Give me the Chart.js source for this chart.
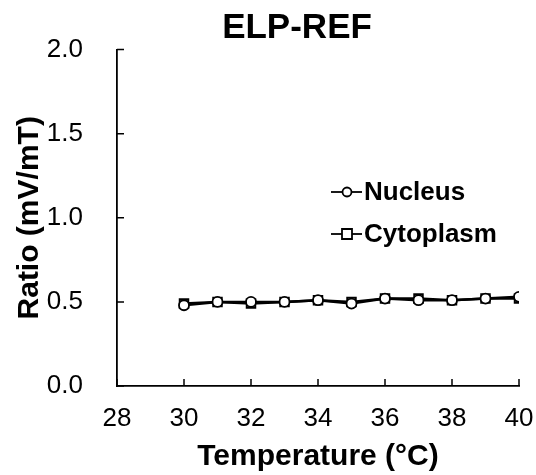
<!DOCTYPE html>
<html>
<head>
<meta charset="utf-8">
<script src="https://cdn.jsdelivr.net/npm/chart.js@4"></script>
<style>
  html, body { margin: 0; padding: 0; background: #fff; }
  #wrap { width: 536px; height: 475px; }
</style>
</head>
<body>
<div id="wrap"><canvas id="chart"></canvas></div>
<script>
// temperatures (°C)
var temperatures = [30, 31, 32, 33, 34, 35, 36, 37, 38, 39, 40];
// ratio values (mV/mT)
var nucleus = [0.48, 0.50, 0.50, 0.50, 0.51, 0.49, 0.52, 0.51, 0.51, 0.52, 0.53];
var cytoplasm = [0.49, 0.50, 0.49, 0.50, 0.51, 0.50, 0.52, 0.52, 0.51, 0.52, 0.52];
var xTicks = [28, 30, 32, 34, 36, 38, 40];
var yTicks = [0, 0.5, 1.0, 1.5, 2.0];
var chartTitle = 'ELP-REF';

function toPoints(xs, ys) {
  var pts = [];
  for (var i = 0; i < xs.length; i++) {
    pts.push({ x: xs[i], y: ys[i] });
  }
  return pts;
}

var FONT = '"Liberation Sans", Arial, sans-serif';

// small inward tick marks on both axes
var innerTicks = {
  id: 'innerTicks',
  afterDraw: function (chart) {
    var ctx = chart.ctx;
    var xs = chart.scales.x, ys = chart.scales.y;
    var area = chart.chartArea;
    ctx.save();
    ctx.strokeStyle = '#000';
    ctx.lineWidth = 1.5;
    ctx.beginPath();
    xTicks.forEach(function (v) {
      var px = xs.getPixelForValue(v);
      ctx.moveTo(px, area.bottom);
      ctx.lineTo(px, area.bottom - 7);
    });
    yTicks.forEach(function (v) {
      var py = ys.getPixelForValue(v);
      ctx.moveTo(area.left, py);
      ctx.lineTo(area.left + 7, py);
    });
    ctx.stroke();
    ctx.restore();
  }
};

// title, a bit right of centre like the original
var topTitle = {
  id: 'topTitle',
  afterDraw: function (chart) {
    var ctx = chart.ctx;
    ctx.save();
    ctx.fillStyle = '#000';
    ctx.font = 'bold 35px ' + FONT;
    ctx.textAlign = 'center';
    ctx.textBaseline = 'alphabetic';
    ctx.fillText(chartTitle, 297, 38);
    ctx.restore();
  }
};

// legend drawn inside the plot area
var innerLegend = {
  id: 'innerLegend',
  afterDraw: function (chart) {
    var ctx = chart.ctx;
    var x0 = 331, y0 = 192, gap = 42;
    ctx.save();
    chart.data.datasets.forEach(function (ds, i) {
      var y = y0 + i * gap;
      ctx.strokeStyle = '#000';
      ctx.lineWidth = 1.8;
      ctx.beginPath();
      ctx.moveTo(x0, y);
      ctx.lineTo(x0 + 31, y);
      ctx.stroke();
      ctx.fillStyle = '#fff';
      ctx.beginPath();
      if (ds.pointStyle === 'rect') {
        ctx.rect(x0 + 11, y - 5, 10, 10);
      } else {
        ctx.arc(x0 + 16, y, 4.5, 0, Math.PI * 2);
      }
      ctx.fill();
      ctx.stroke();
      ctx.fillStyle = '#000';
      ctx.font = 'bold 26px ' + FONT;
      ctx.textBaseline = 'middle';
      ctx.fillText(ds.label, x0 + 33, y + 1);
    });
    ctx.restore();
  }
};

var ctx = document.getElementById('chart').getContext('2d');
var myChart = new Chart(ctx, {
  type: 'line',
  data: {
    datasets: [{
      label: 'Nucleus',
      data: toPoints(temperatures, nucleus),
      borderColor: '#000',
      borderWidth: 2.5,
      pointStyle: 'circle',
      pointRadius: 5,
      pointBorderWidth: 1.8,
      pointBackgroundColor: '#fff',
      pointBorderColor: '#000'
    }, {
      label: 'Cytoplasm',
      data: toPoints(temperatures, cytoplasm),
      borderColor: '#000',
      borderWidth: 2.5,
      pointStyle: 'rect',
      pointRadius: 6,
      pointBorderWidth: 2,
      pointBackgroundColor: 'rgba(255,255,255,0)',
      pointBorderColor: '#000'
    }]
  },
  options: {
    responsive: true,
    maintainAspectRatio: false,
    animation: false,
    layout: {
      padding: { top: 47, right: 0, bottom: 0, left: 0 }
    },
    plugins: {
      legend: { display: false },
      tooltip: { enabled: false },
      title: { display: false }
    },
    scales: {
      x: {
        type: 'linear',
        min: 28,
        max: 40,
        afterBuildTicks: function (scale) {
          scale.ticks = xTicks.map(function (v) { return { value: v }; });
        },
        afterFit: function (scale) {
          scale.height = 89;
          scale.paddingRight = 17;
          scale.paddingLeft = 0;
        },
        grid: { display: false, drawTicks: false },
        border: { display: true, color: '#000', width: 1.8 },
        ticks: {
          color: '#000',
          padding: 17,
          maxRotation: 0,
          font: { family: FONT, size: 26 }
        },
        title: {
          display: true,
          text: 'Temperature (°C)',
          color: '#000',
          font: { family: FONT, size: 30, weight: 'bold' },
          padding: { top: 0, bottom: 0 }
        }
      },
      y: {
        min: 0,
        max: 2,
        afterBuildTicks: function (scale) {
          scale.ticks = yTicks.map(function (v) { return { value: v }; });
        },
        afterFit: function (scale) { scale.width = 117; },
        grid: { display: false, drawTicks: false },
        border: { display: true, color: '#000', width: 1.8 },
        ticks: {
          color: '#000',
          padding: 34,
          font: { family: FONT, size: 26 },
          callback: function (v) { return v.toFixed(1); }
        },
        title: {
          display: true,
          text: 'Ratio (mV/mT)',
          color: '#000',
          font: { family: FONT, size: 30, weight: 'bold' },
          padding: { top: 12, bottom: 0 }
        }
      }
    }
  },
  plugins: [innerTicks, topTitle, innerLegend]
});
</script>
</body>
</html>
